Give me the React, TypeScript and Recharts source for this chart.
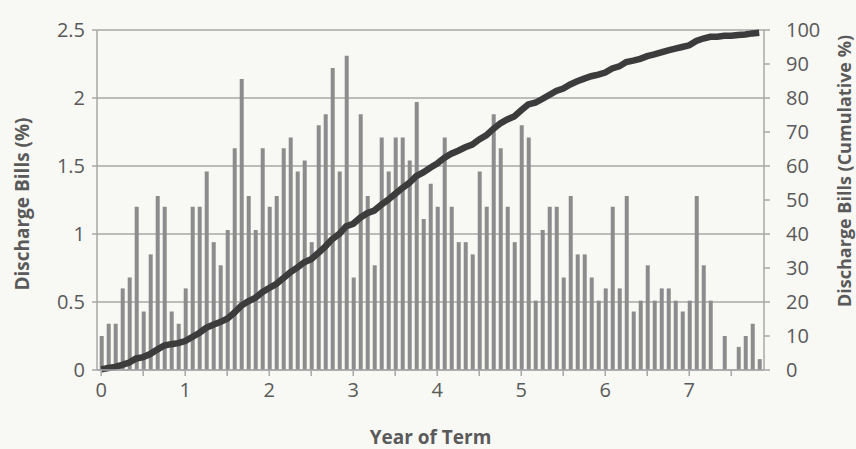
import React from "react";
import { ComposedChart, Bar, Line, XAxis, YAxis, CartesianGrid } from "recharts";

// Share of discharge bills filed in each month of the term (%)
const BAR_PCT: number[] = [
  0.25, 0.34, 0.34, 0.6, 0.68, 1.2, 0.43, 0.85, 1.28, 1.2,
  0.43, 0.34, 0.6, 1.2, 1.2, 1.46, 0.94, 0.77, 1.03, 1.63,
  2.14, 1.28, 1.03, 1.63, 1.2, 1.28, 1.63, 1.71, 1.46, 1.54,
  0.94, 1.8, 1.88, 2.22, 1.46, 2.31, 0.68, 1.88, 1.28, 0.77,
  1.71, 1.46, 1.71, 1.71, 1.54, 1.97, 1.11, 1.37, 1.2, 1.71,
  1.2, 0.94, 0.94, 0.85, 1.46, 1.2, 1.88, 1.63, 1.2, 0.94,
  1.8, 1.71, 0.51, 1.03, 1.2, 1.2, 0.68, 1.28, 0.85, 0.85,
  0.68, 0.51, 0.6, 1.2, 0.6, 1.28, 0.43, 0.51, 0.77, 0.51,
  0.6, 0.6, 0.51, 0.43, 0.51, 1.28, 0.77, 0.51, 0, 0.25,
  0, 0.17, 0.25, 0.34, 0.08,
];

// Cumulative share (%)
const CUM_PCT: number[] = [
  0.2, 0.6, 0.9, 1.5, 2.2, 3.4, 3.8, 4.7, 6.0, 7.2,
  7.6, 7.9, 8.5, 9.7, 10.9, 12.4, 13.3, 14.1, 15.1, 16.8,
  18.9, 20.2, 21.2, 22.9, 24.1, 25.3, 27.0, 28.7, 30.1, 31.7,
  32.6, 34.4, 36.3, 38.5, 40.0, 42.3, 43.0, 44.8, 46.1, 46.9,
  48.6, 50.1, 51.8, 53.5, 55.0, 57.0, 58.1, 59.5, 60.7, 62.4,
  63.6, 64.5, 65.5, 66.3, 67.8, 69.0, 70.9, 72.5, 73.7, 74.6,
  76.4, 78.1, 78.6, 79.7, 80.9, 82.1, 82.8, 84.0, 84.9, 85.7,
  86.4, 86.9, 87.5, 88.7, 89.3, 90.6, 91.0, 91.5, 92.3, 92.8,
  93.4, 94.0, 94.5, 95.0, 95.5, 96.8, 97.5, 98.0, 98.0, 98.3,
  98.3, 98.5, 98.7, 99.0, 99.2,
];

const X_TICKS: number[] = [0, 0.5, 1, 1.5, 2, 2.5, 3, 3.5, 4, 4.5, 5, 5.5, 6, 6.5, 7, 7.5];
const LEFT_TICKS: number[] = [0, 0.5, 1, 1.5, 2, 2.5];
const RIGHT_TICKS: number[] = [0, 10, 20, 30, 40, 50, 60, 70, 80, 90, 100];

const data = BAR_PCT.map((v, i) => ({ year: i / 12, pct: v, cum: CUM_PCT[i] }));

const FONT = "'Open Sans', 'Noto Sans', sans-serif";
const TEXT = "#5a5a5a";
const GRID = "#a8a8a8";

export default function App() {
  return (
    <div
      style={{
        position: "absolute",
        left: 0,
        top: 0,
        width: 856,
        height: 449,
        background: "#f8f8f4",
        fontFamily: FONT,
      }}
    >
      <ComposedChart
        width={856}
        height={449}
        data={data}
        margin={{ top: 30, right: 0, bottom: 0, left: 0 }}
      >
        <CartesianGrid horizontal vertical={false} stroke={GRID} strokeWidth={1.5} yAxisId="left" />
        <XAxis
          dataKey="year"
          type="number"
          domain={[-0.05, 7.89]}
          allowDataOverflow
          ticks={X_TICKS}
          interval={0}
          tickFormatter={(v: number) => (Number.isInteger(v) ? String(v) : "")}
          height={79}
          tickSize={6}
          tickMargin={7}
          stroke={GRID}
          strokeWidth={1.5}
          tick={{ fill: TEXT, fontSize: 20, fontFamily: FONT }}
          label={{
            value: "Year of Term",
            position: "center",
            dx: 0,
            dy: 28,
            fill: TEXT,
            fontSize: 19,
            fontWeight: "bold",
            fontFamily: FONT,
          }}
        />
        <YAxis
          yAxisId="left"
          orientation="left"
          domain={[0, 2.5]}
          ticks={LEFT_TICKS}
          interval={0}
          width={97}
          tickSize={5}
          tickMargin={7}
          stroke={GRID}
          strokeWidth={1.5}
          tick={{ fill: TEXT, fontSize: 20, fontFamily: FONT }}
          label={{
            value: "Discharge Bills (%)",
            angle: -90,
            position: "center",
            dx: -26,
            dy: 4,
            fill: TEXT,
            fontSize: 19,
            fontWeight: "bold",
            fontFamily: FONT,
          }}
        />
        <YAxis
          yAxisId="right"
          orientation="right"
          domain={[0, 100]}
          ticks={RIGHT_TICKS}
          interval={0}
          width={92}
          tickSize={6}
          tickMargin={16}
          stroke={GRID}
          strokeWidth={1.5}
          tick={{ fill: TEXT, fontSize: 20, fontFamily: FONT }}
          label={{
            value: "Discharge Bills (Cumulative %)",
            angle: -90,
            position: "center",
            dx: 35,
            dy: -29,
            fill: TEXT,
            fontSize: 18,
            fontWeight: "bold",
            fontFamily: FONT,
          }}
        />
        <Bar yAxisId="left" dataKey="pct" fill="#8c8c8c" barSize={4} isAnimationActive={false} />
        <Line
          yAxisId="right"
          dataKey="cum"
          type="linear"
          stroke="#3c3c3c"
          strokeWidth={6.5}
          dot={false}
          isAnimationActive={false}
        />
      </ComposedChart>
    </div>
  );
}
